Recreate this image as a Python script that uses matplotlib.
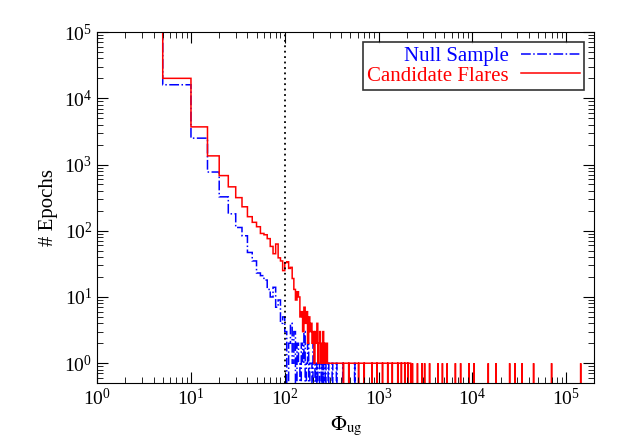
import numpy as np
import matplotlib
matplotlib.use("Agg")
import matplotlib.pyplot as plt

plt.rcParams["font.family"] = "Liberation Serif"
plt.rcParams["mathtext.fontset"] = "stix"

bin_width = 5
# counts per 5-wide bin starting at 0
red_head = [200000, 20000, 3700, 1350, 680, 460, 316, 230, 163, 134, 115, 91, 87, 76, 58,
            45, 63, 39, 35, 25, 33, 34, 27, 28, 19, 13, 9, 12, 10, 5, 6, 3, 7, 4, 6, 2, 5,
            3, 4, 2, 3, 1, 3, 2, 4, 1, 2, 3, 1, 2, 1, 3, 1, 2, 1, 1, 2, 1, 1, 1]
blue_head = [200000, 16000, 2500, 770, 325, 180, 112, 84, 47, 35, 23, 21, 18, 13, 10, 14,
             7, 9, 4, 5, 3, 0, 2, 4, 1, 3, 0, 2, 1, 0, 2, 1, 3, 0, 1, 2, 0, 1, 1, 0, 2, 1,
             0, 1, 0, 1, 1, 0, 0, 1, 0, 1, 0, 0, 1, 0, 0, 0, 1, 0, 0, 0, 0, 0, 1, 0, 0,
             0, 0, 0, 0, 1, 0, 0, 0, 0, 0, 0, 0, 0, 0, 0, 0, 1, 0, 0, 0, 0, 0, 0, 0, 0,
             0, 0, 0, 0, 0, 0, 0, 0, 0, 0, 0, 0, 0, 0, 0, 0, 0, 0, 0, 1]
# tail of red: range filled with single counts (with gaps), plus isolated spikes
red_dense_range = (300, 2200)
red_dense_gaps = [420, 480, 610, 700, 850, 960, 1100, 1250, 1400, 1600, 1750, 1900, 2050]
red_spikes = [2300, 2600, 2900, 3100, 3500, 4300, 4800, 5400, 6600, 7500, 9200, 10400,
              14800, 17900, 25000, 28500, 34000, 45000, 70000, 143000]

nbins = int(150000 / bin_width) + 2
red = np.zeros(nbins)
red[:len(red_head)] = red_head
lo, hi = red_dense_range
red[lo // bin_width:hi // bin_width] = 1
for g in red_dense_gaps:
    red[g // bin_width] = 0
for s in red_spikes:
    red[s // bin_width] = 1
blue = np.zeros(nbins)
blue[:len(blue_head)] = blue_head
edges = np.arange(nbins + 1) * bin_width

fig = plt.figure(figsize=(6.23, 4.45), dpi=100)
ax = fig.add_axes([0.156, 0.139, 0.798, 0.789])
ax.stairs(np.where(blue > 0, blue, 0.05), edges, color="blue", ls="-.", lw=1.1,
          label="Null Sample")
ax.stairs(np.where(red > 0, red, 0.05), edges, color="red", lw=1.1,
          label="Candidate Flares")
ax.axvline(100, color="black", ls=(0, (1, 2)), lw=1.3)
ax.set_xscale("log")
ax.set_yscale("log")
ax.set_xlim(1, 2e5)
ax.set_ylim(0.5, 1e5)
ax.tick_params(which="both", direction="in", top=True, right=True, labelsize=14)
ax.tick_params(which="major", length=8)
ax.tick_params(which="minor", length=4)
ax.set_xlabel(r"$\Phi_{\rm ug}$", fontsize=15)
ax.set_ylabel("# Epochs", fontsize=15)
leg = ax.legend(loc="upper right", fontsize=15, frameon=True, fancybox=False,
                edgecolor="black", handlelength=2.8, borderaxespad=0.5,
                markerfirst=False, handletextpad=0.6, borderpad=0.2, labelspacing=0.0)
for t, c in zip(leg.get_texts(), ["blue", "red"]):
    t.set_color(c)
leg.get_frame().set_linewidth(1.2)
fig.savefig("out.png", dpi=100)
